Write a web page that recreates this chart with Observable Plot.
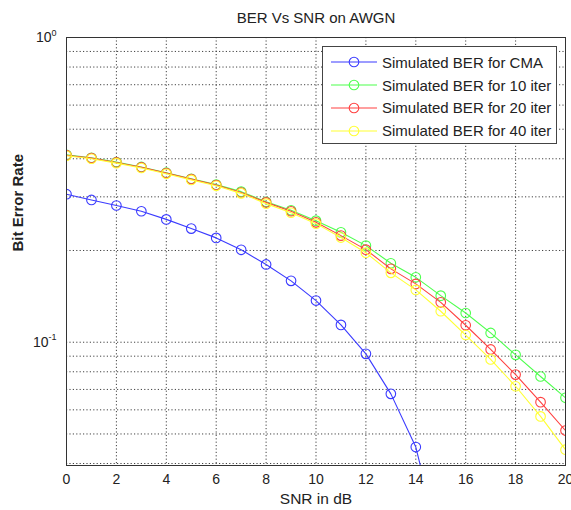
<!DOCTYPE html>
<html>
<head>
<meta charset="utf-8">
<script src="https://cdn.jsdelivr.net/npm/d3@7"></script>
<script src="https://cdn.jsdelivr.net/npm/@observablehq/plot@0.6"></script>
<style>
  html, body { margin: 0; padding: 0; background: #fff; }
  #wrap { position: relative; width: 571px; height: 510px; font-family: "Liberation Sans", Arial, sans-serif; }
  #legend { position: absolute; left: 322px; top: 46px; width: 235px; height: 98px; box-sizing: border-box;
            border: 1px solid #444; background: #fff; padding-top: 4px; }
  .row { display: flex; align-items: center; height: 22.8px; font-size: 15px; color: #222; white-space: nowrap; }
  .row svg { margin-left: 8px; margin-right: 5px; flex: none; }
</style>
</head>
<body>
<div id="wrap"><div id="chart"></div><div id="legend"></div></div>
<script>
// ---- data ----
const snr = [0, 1, 2, 3, 4, 5, 6, 7, 8, 9, 10, 11, 12, 13, 14, 15, 16, 17, 18, 19, 20];
const berCMA = [0.306, 0.293, 0.281, 0.269, 0.253, 0.236, 0.220, 0.201, 0.180, 0.159, 0.137, 0.114, 0.0916, 0.0677, 0.0453, 0.021];
const ber10 = [0.412, 0.403, 0.390, 0.376, 0.360, 0.344, 0.329, 0.312, 0.289, 0.271, 0.2506, 0.2294, 0.2075, 0.1816, 0.1633, 0.1422, 0.1247, 0.1073, 0.0909, 0.0772, 0.0657];
const ber20 = [0.411, 0.402, 0.389, 0.375, 0.359, 0.343, 0.328, 0.310, 0.2877, 0.269, 0.2474, 0.2238, 0.2013, 0.1741, 0.1554, 0.1352, 0.1137, 0.0947, 0.0783, 0.0636, 0.0513];
const ber40 = [0.409, 0.400, 0.387, 0.373, 0.357, 0.341, 0.326, 0.308, 0.285, 0.266, 0.245, 0.2205, 0.1967, 0.1689, 0.1485, 0.1264, 0.1056, 0.0878, 0.0717, 0.0571, 0.0444];
const seriesNames = ["Simulated BER for CMA", "Simulated BER for 10 iter", "Simulated BER for 20 iter", "Simulated BER for 40 iter"];
const seriesColors = ["#3b3bff", "#4dff4d", "#ff4040", "#ffff33"];
const xTicks = [0, 2, 4, 6, 8, 10, 12, 14, 16, 18, 20];
const yTicks = [0.1, 1];
const yTickExp = ["-1", "0"];
const yGrid = [0.04, 0.05, 0.06, 0.07, 0.08, 0.09, 0.1, 0.2, 0.3, 0.4, 0.5, 0.6, 0.7, 0.8, 0.9, 1];
const title = "BER Vs SNR on AWGN";
const xLabel = "SNR in dB";
const yLabel = "Bit Error Rate";

const allSeries = [berCMA, ber10, ber20, ber40];
const rows = allSeries.flatMap((vals, s) => vals.map((v, i) => ({snr: snr[i], ber: v, s: seriesNames[s]})));

const font = "Liberation Sans, Arial, sans-serif";
const gridStyle = {stroke: "#222", strokeOpacity: 0.85, strokeWidth: 1, strokeDasharray: "1.2,2.2"};

const marks = [
  Plot.ruleX(xTicks, {x: d => d, ...gridStyle}),
  Plot.ruleY(yGrid, {y: d => d, ...gridStyle}),
  Plot.axisX({ticks: xTicks, tickSize: 0, tickPadding: 9, fontSize: 14, label: null, tickFormat: d => String(d)}),
  Plot.axisY({ticks: yTicks, tickSize: 0, tickPadding: 10, fontSize: 14, label: null, tickFormat: d => yTickExp[yTicks.indexOf(d)]}),
];
seriesNames.forEach((name, s) => {
  const data = rows.filter(r => r.s === name);
  marks.push(Plot.line(data, {x: "snr", y: "ber", stroke: seriesColors[s], strokeWidth: 1.1, clip: true}));
  marks.push(Plot.dot(data, {x: "snr", y: "ber", stroke: seriesColors[s], r: 4.8, strokeWidth: 1.1, fill: "none", clip: true}));
});
marks.push(Plot.frame({stroke: "#333", strokeWidth: 1}));
marks.push(Plot.text([title], {frameAnchor: "top", dy: -19, lineAnchor: "middle", fontSize: 15, fill: "#222", text: d => d}));
marks.push(Plot.text([xLabel], {frameAnchor: "bottom", dy: 34, lineAnchor: "middle", fontSize: 15.5, fill: "#222", text: d => d}));
marks.push(Plot.text([yLabel], {frameAnchor: "left", dx: -48, rotate: -90, lineAnchor: "middle", fontSize: 15, fontWeight: "bold", fill: "#222", text: d => d}));

const chart = Plot.plot({
  width: 571,
  height: 510,
  marginLeft: 66,
  marginRight: 6,
  marginTop: 37,
  marginBottom: 45,
  style: {fontFamily: font, background: "#fff", color: "#222"},
  x: {domain: [0, 20]},
  y: {type: "log", domain: [0.0394, 1]},
  marks
});
document.getElementById("chart").appendChild(chart);

// render y tick labels as 10^exp with a superscript
d3.select(chart).selectAll('g[aria-label="y-axis tick label"] text').each(function() {
  const t = d3.select(this);
  const e = t.text();
  t.text(null);
  t.append("tspan").text("10");
  t.append("tspan").attr("font-size", 9).attr("dy", "-0.7em").text(e);
});

// legend
const legend = d3.select("#legend");
seriesNames.forEach((name, s) => {
  const row = legend.append("div").attr("class", "row");
  const svg = row.append("svg").attr("width", 46).attr("height", 14);
  svg.append("line").attr("x1", 0).attr("x2", 46).attr("y1", 7).attr("y2", 7).attr("stroke", seriesColors[s]).attr("stroke-width", 1.1);
  svg.append("circle").attr("cx", 23).attr("cy", 7).attr("r", 4.8).attr("fill", "none").attr("stroke", seriesColors[s]).attr("stroke-width", 1.1);
  row.append("span").text(name);
});
</script>
</body>
</html>
